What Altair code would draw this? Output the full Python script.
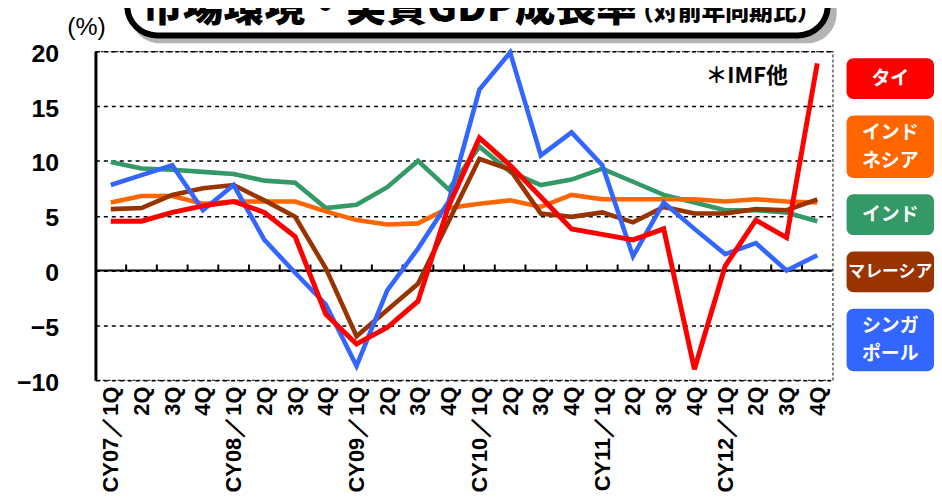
import json
import pandas as pd
import altair as alt

# ---------------- data ----------------
quarters = ["CY07／1Q", "2Q", "3Q", "4Q", "CY08／1Q", "2Q", "3Q", "4Q",
            "CY09／1Q", "2Q", "3Q", "4Q", "CY10／1Q", "2Q", "3Q", "4Q",
            "CY11／1Q", "2Q", "3Q", "4Q", "CY12／1Q", "2Q", "3Q", "4Q"]

thai = [4.5, 4.5, 5.3, 5.9, 6.3, 5.3, 3.1, -4.0, -6.7, -5.2, -2.8, 5.9,
        12.1, 9.6, 6.7, 3.8, 3.3, 2.8, 3.8, -9.0, 0.4, 4.6, 3.0, 18.9]
indonesia = [6.2, 6.8, 6.8, 6.1, 6.3, 6.3, 6.3, 5.4, 4.6, 4.2, 4.3, 5.7,
             6.1, 6.4, 5.8, 6.9, 6.5, 6.5, 6.5, 6.5, 6.3, 6.5, 6.3, 6.2]
india = [9.9, 9.3, 9.2, 9.0, 8.8, 8.2, 8.0, 5.7, 6.0, 7.6, 10.0, 7.4,
         11.3, 9.0, 7.8, 8.3, 9.3, 8.1, 6.9, 6.2, 5.5, 5.5, 5.3, 4.5]
malaysia = [5.6, 5.7, 6.9, 7.5, 7.8, 6.4, 4.9, 0.2, -6.0, -3.6, -1.2, 4.5,
            10.2, 9.2, 5.2, 4.9, 5.3, 4.4, 5.8, 5.2, 5.2, 5.6, 5.5, 6.5]
singapore = [7.8, 8.7, 9.6, 5.5, 7.8, 2.8, -0.2, -3.1, -8.7, -1.8, 2.0, 6.3,
             16.5, 19.9, 10.5, 12.6, 9.6, 1.3, 6.2, 3.8, 1.5, 2.5, 0.0, 1.4]

series_names = ["タイ", "インドネシア", "インド", "マレーシア", "シンガポール"]
series_values = [thai, indonesia, india, malaysia, singapore]
legend_lines = [["タイ"], ["インド", "ネシア"], ["インド"], ["マレーシア"], ["シンガ", "ポール"]]
colors = ["#FF0000", "#FF6600", "#339966", "#993300", "#3366FF"]
draw_order = ["インド", "インドネシア", "マレーシア", "シンガポール", "タイ"]
y_ticks = [-10, -5, 0, 5, 10, 15, 20]

title_main = "市場環境・実質GDP成長率"
title_sub = "（対前年同期比）"
unit_label = "(%)"
source_note = "＊IMF他"

W, H = 742, 331
one = pd.DataFrame({"a": [0]})

xscale = alt.Scale(domain=[-0.5, len(quarters) - 0.5], nice=False, zero=False)
yscale = alt.Scale(domain=[y_ticks[0], y_ticks[-1]], nice=False, zero=False)

label_expr = json.dumps(quarters, ensure_ascii=False) + "[datum.value]"
x_axis = alt.Axis(values=list(range(len(quarters))), labelExpr=label_expr,
                  labelAngle=270, labelAlign="right", labelBaseline="middle",
                  labelFontSize=22, labelFont="Liberation Sans", labelFontWeight="bold",
                  labelColor="black", labelPadding=6, labelFlush=False,
                  labelOverlap=False, ticks=False, domain=False, grid=False, title=None)
y_axis = alt.Axis(values=y_ticks, grid=True, gridDash=[4, 4], gridColor="black",
                  gridWidth=1.5, gridOpacity=1, ticks=False, domainColor="black",
                  domainWidth=3, labelFontSize=25, labelFont="Liberation Sans",
                  labelFontWeight="bold", labelColor="black", labelPadding=37,
                  labelOffset=2, title=None)


def X(field):
    return alt.X(field, scale=xscale, axis=x_axis)


def Y(field):
    return alt.Y(field, scale=yscale, axis=y_axis)


layers = []

# zero line
layers.append(alt.Chart(one).mark_rule(color="black", strokeWidth=2).encode(
    y=Y("a:Q")))

# tick marks on zero line at quarter boundaries
bdf = pd.DataFrame({"b": [k - 0.5 for k in range(1, len(quarters))],
                    "y0": 0.0, "y1": 0.55})
layers.append(alt.Chart(bdf).mark_rule(color="black", strokeWidth=2).encode(
    x=X("b:Q"), y=Y("y0:Q"), y2="y1:Q"))

# series lines
for name in draw_order:
    idx = series_names.index(name)
    df = pd.DataFrame({"i": list(range(len(quarters))), "v": series_values[idx]})
    layers.append(alt.Chart(df).mark_line(
        color=colors[idx], strokeWidth=5 if name == "タイ" else 4.6,
        strokeJoin="miter", strokeCap="butt").encode(
        x=X("i:Q"), y=Y("v:Q")))

# title box (shadow + box)
layers.append(alt.Chart(one).mark_rect(fill="#b3b3b3", cornerRadius=30).encode(
    x=alt.value(35), x2=alt.value(746), y=alt.value(-90), y2=alt.value(-8)))
layers.append(alt.Chart(one).mark_rect(fill="white", stroke="black", strokeWidth=6,
                                       cornerRadius=30).encode(
    x=alt.value(32), x2=alt.value(737), y=alt.value(-90), y2=alt.value(-16)))
layers.append(alt.Chart(one).mark_text(align="left", baseline="alphabetic",
                                       font="Noto Sans CJK JP", fontWeight=900,
                                       fontSize=41, color="black").encode(
    x=alt.value(47), y=alt.value(-30), text=alt.value(title_main)))
layers.append(alt.Chart(one).mark_text(align="left", baseline="alphabetic",
                                       font="Noto Sans CJK JP", fontWeight=900,
                                       fontSize=24, color="black").encode(
    x=alt.value(538), y=alt.value(-31), text=alt.value(title_sub)))

# unit label
layers.append(alt.Chart(one).mark_text(align="center", baseline="alphabetic",
                                       font="Liberation Sans", fontSize=25,
                                       color="black").encode(
    x=alt.value(-9), y=alt.value(-16), text=alt.value(unit_label)))

# source note
layers.append(alt.Chart(one).mark_text(align="left", baseline="middle",
                                       font="Noto Sans CJK JP", fontWeight="bold",
                                       fontSize=22, color="black").encode(
    x=alt.value(614), y=alt.value(25), text=alt.value(source_note)))

# custom legend boxes
box_rows, text_rows = [], []
top = 7.0
for lines, col in zip(legend_lines, colors):
    h = 41 if len(lines) == 1 else 63
    box_rows.append({"x0": 756, "x1": 844, "y0": top, "y1": top + h, "c": col})
    mid = top + h / 2
    fs = 17 if max(len(s) for s in lines) > 3 else 19
    if len(lines) == 1:
        text_rows.append({"tx": 800, "ty": mid, "t": lines[0], "fs": fs})
    else:
        text_rows.append({"tx": 800, "ty": mid - 14, "t": lines[0], "fs": fs})
        text_rows.append({"tx": 800, "ty": mid + 14, "t": lines[1], "fs": fs})
    top += h + 16.5
layers.append(alt.Chart(pd.DataFrame(box_rows)).mark_rect(cornerRadius=7).encode(
    x=alt.X("x0:Q", scale=None), x2="x1:Q",
    y=alt.Y("y0:Q", scale=None), y2="y1:Q",
    color=alt.Color("c:N", scale=None, legend=None)))
layers.append(alt.Chart(pd.DataFrame(text_rows)).mark_text(
    align="center", baseline="middle", font="Noto Sans CJK JP", fontWeight="bold",
    color="white").encode(
    x=alt.X("tx:Q", scale=None),
    y=alt.Y("ty:Q", scale=None),
    size=alt.Size("fs:Q", scale=None, legend=None),
    text="t:N"))

chart = alt.layer(*layers).properties(
    width=W, height=H,
    autosize=alt.AutoSizeParams(type="none"),
    padding={"left": 88, "top": 42, "right": 102, "bottom": 113},
    background="white",
).resolve_scale(x="shared", y="shared").configure_view(
    stroke="#333333", strokeDash=[3, 2], strokeWidth=1.2)

chart.save("out.html", embed_options={"renderer": "svg", "actions": False})
